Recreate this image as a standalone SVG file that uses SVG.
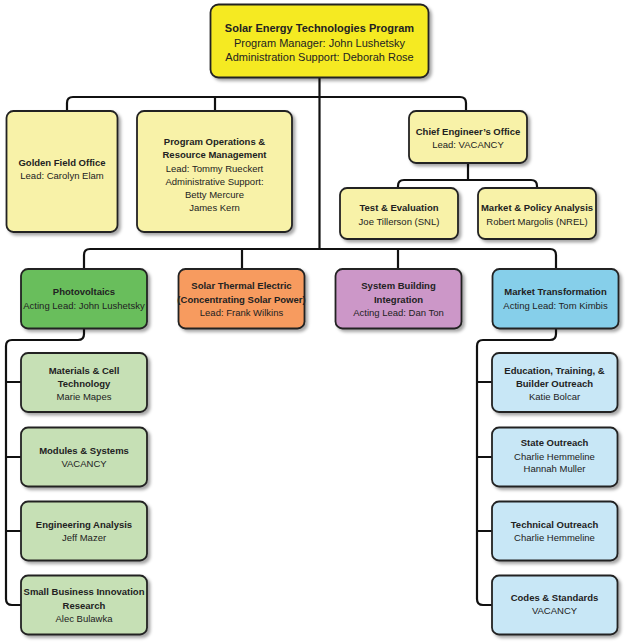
<svg xmlns="http://www.w3.org/2000/svg" width="625" height="643" viewBox="0 0 625 643">
<defs>
<filter id="sh" x="-10%" y="-10%" width="130%" height="130%">
<feDropShadow dx="2.5" dy="2.5" stdDeviation="1.5" flood-color="#000" flood-opacity="0.35"/>
</filter>
<style>
.box{stroke:#222;stroke-width:1.8;filter:url(#sh)}
.top{fill:#f5ea24}
.pale{fill:#f8f2a8}
.pv{fill:#69be5c}
.pvl{fill:#c6e0b5}
.ste{fill:#f79b5f}
.sbi{fill:#cc97c8}
.mt{fill:#86cfea}
.mtl{fill:#c8e7f6}
text{font-family:"Liberation Sans",Arial,sans-serif;font-size:9.5px;fill:#222;text-anchor:middle}
.b{font-weight:bold}
.big{font-size:11px}
.con{fill:none;stroke:#111;stroke-width:2.2;stroke-linejoin:round}
</style>
</defs>
<rect width="625" height="643" fill="#fff"/>
<g id="connectors">
<path class="con" d="M319.5 77 V249"/>
<path class="con" d="M67 111 V103 Q67 97 73 97 H460 Q466 97 466 103 V111"/>
<path class="con" d="M215 97 V111"/>
<path class="con" d="M468 163 V180"/>
<path class="con" d="M398 188 V186 Q398 180 404 180 H531 Q537 180 537 186 V188"/>
<path class="con" d="M84 269 V255 Q84 249 90 249 H550 Q556 249 556 255 V269"/>
<path class="con" d="M242 249 V269"/>
<path class="con" d="M398 249 V269"/>
<path class="con" d="M84 328 V334 Q84 340 78 340 H12 Q6 340 6 346 V599 Q6 605 12 605 H21"/>
<path class="con" d="M6 382 H21 M6 457 H21 M6 531 H21"/>
<path class="con" d="M556 328 V334 Q556 340 550 340 H483 Q477 340 477 346 V599 Q477 605 483 605 H492"/>
<path class="con" d="M477 382 H492 M477 457 H492 M477 531 H492"/>
</g>
<g id="n-set">
<rect class="box top" x="210.5" y="4.5" width="218" height="73" rx="8"/>
<text class="b big" x="319.5" y="31.5">Solar Energy Technologies Program</text>
<text class="big" x="319.5" y="46.5">Program Manager: John Lushetsky</text>
<text class="big" x="319.5" y="61">Administration Support: Deborah Rose</text>
</g>
<g id="n-golden">
<rect class="box pale" x="6.5" y="111" width="111" height="121" rx="7"/>
<text class="b" x="62" y="166">Golden Field Office</text>
<text x="62" y="179">Lead: Carolyn Elam</text>
</g>
<g id="n-progops">
<rect class="box pale" x="137" y="111" width="155" height="121" rx="7"/>
<text class="b" x="214.5" y="145">Program Operations &amp;</text>
<text class="b" x="214.5" y="158">Resource Management</text>
<text x="214.5" y="171.5">Lead: Tommy Rueckert</text>
<text x="214.5" y="184.5">Administrative Support:</text>
<text x="214.5" y="197.5">Betty Mercure</text>
<text x="214.5" y="210.5">James Kern</text>
</g>
<g id="n-chief">
<rect class="box pale" x="409" y="111" width="118" height="52" rx="7"/>
<text class="b" x="468" y="134.5">Chief Engineer’s Office</text>
<text x="468" y="148">Lead: VACANCY</text>
</g>
<g id="n-test">
<rect class="box pale" x="340" y="188" width="118" height="51" rx="7"/>
<text class="b" x="399" y="211">Test &amp; Evaluation</text>
<text x="399" y="224.5">Joe Tillerson (SNL)</text>
</g>
<g id="n-market-policy">
<rect class="box pale" x="478" y="188" width="118" height="51" rx="7"/>
<text class="b" x="537" y="211">Market &amp; Policy Analysis</text>
<text x="537" y="224.5">Robert Margolis (NREL)</text>
</g>
<g id="n-pv">
<rect class="box pv" x="21" y="269" width="126" height="59.5" rx="7"/>
<text class="b" x="84" y="295">Photovoltaics</text>
<text x="84" y="308.5">Acting Lead: John Lushetsky</text>
</g>
<g id="n-ste">
<rect class="box ste" x="178.5" y="269" width="126" height="59.5" rx="7"/>
<text class="b" x="241.5" y="289">Solar Thermal Electric</text>
<text class="b" x="241.5" y="303">(Concentrating Solar Power)</text>
<text x="241.5" y="316">Lead: Frank Wilkins</text>
</g>
<g id="n-sbi">
<rect class="box sbi" x="335.5" y="269" width="126" height="59.5" rx="7"/>
<text class="b" x="398.5" y="289">System Building</text>
<text class="b" x="398.5" y="303">Integration</text>
<text x="398.5" y="316">Acting Lead: Dan Ton</text>
</g>
<g id="n-mt">
<rect class="box mt" x="492.5" y="269" width="126" height="59.5" rx="7"/>
<text class="b" x="555.5" y="295">Market Transformation</text>
<text x="555.5" y="308.5">Acting Lead: Tom Kimbis</text>
</g>
<g id="n-materials">
<rect class="box pvl" x="21" y="353" width="126" height="59" rx="7"/>
<text class="b" x="84" y="374">Materials &amp; Cell</text>
<text class="b" x="84" y="387">Technology</text>
<text x="84" y="400">Marie Mapes</text>
</g>
<g id="n-modules">
<rect class="box pvl" x="21" y="427.5" width="126" height="59" rx="7"/>
<text class="b" x="84" y="454">Modules &amp; Systems</text>
<text x="84" y="467">VACANCY</text>
</g>
<g id="n-engineering">
<rect class="box pvl" x="21" y="501.5" width="126" height="59" rx="7"/>
<text class="b" x="84" y="528">Engineering Analysis</text>
<text x="84" y="541">Jeff Mazer</text>
</g>
<g id="n-sbir">
<rect class="box pvl" x="21" y="575.5" width="126" height="59" rx="7"/>
<text class="b" x="84" y="595">Small Business Innovation</text>
<text class="b" x="84" y="609">Research</text>
<text x="84" y="622">Alec Bulawka</text>
</g>
<g id="n-education">
<rect class="box mtl" x="492" y="353" width="125.5" height="59" rx="7"/>
<text class="b" x="554.5" y="374">Education, Training, &amp;</text>
<text class="b" x="554.5" y="387">Builder Outreach</text>
<text x="554.5" y="400">Katie Bolcar</text>
</g>
<g id="n-state">
<rect class="box mtl" x="492" y="427.5" width="125.5" height="59" rx="7"/>
<text class="b" x="554.5" y="446">State Outreach</text>
<text x="554.5" y="459.5">Charlie Hemmeline</text>
<text x="554.5" y="472">Hannah Muller</text>
</g>
<g id="n-technical">
<rect class="box mtl" x="492" y="501.5" width="125.5" height="59" rx="7"/>
<text class="b" x="554.5" y="528">Technical Outreach</text>
<text x="554.5" y="541">Charlie Hemmeline</text>
</g>
<g id="n-codes">
<rect class="box mtl" x="492" y="575.5" width="125.5" height="59" rx="7"/>
<text class="b" x="554.5" y="601">Codes &amp; Standards</text>
<text x="554.5" y="614">VACANCY</text>
</g>
</svg>
